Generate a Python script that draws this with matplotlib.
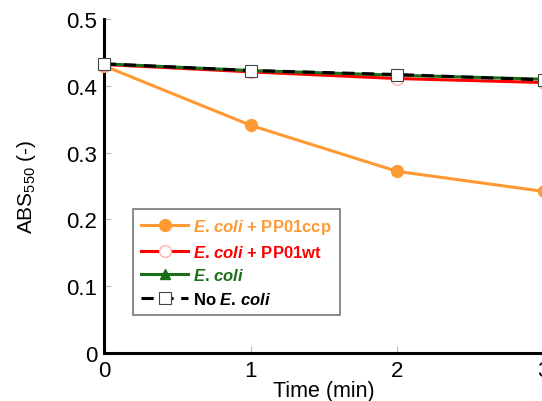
import matplotlib
matplotlib.use("Agg")
import matplotlib.pyplot as plt

plt.rcParams["font.family"] = ["Liberation Sans", "DejaVu Sans"]
plt.rcParams["mathtext.fontset"] = "custom"
plt.rcParams["mathtext.it"] = "Liberation Sans:italic:bold"
plt.rcParams["mathtext.rm"] = "Liberation Sans"

time_min = [0, 1, 2, 3]
ecoli_ccp = [0.430, 0.341, 0.272, 0.242]
ecoli_wt = [0.432, 0.421, 0.411, 0.405]
ecoli_only = [0.433, 0.423, 0.416, 0.410]
no_ecoli = [0.433, 0.423, 0.417, 0.409]

x_ticks = [0, 1, 2, 3]
y_ticks = [0, 0.1, 0.2, 0.3, 0.4, 0.5]
y_tick_labels = ["0", "0.1", "0.2", "0.3", "0.4", "0.5"]

fig = plt.figure(figsize=(5.42, 4.02), dpi=100)
ax = fig.add_axes([0.192, 0.1194, 0.811, 0.8306])

ax.plot(time_min, ecoli_ccp, "-o", color="#ff9933", lw=2.2, ms=8.5,
        mec="#ff9933", mfc="#ff9933", label=r"$E$. $coli$ + PP01ccp", clip_on=False, zorder=3)
ax.plot(time_min, ecoli_wt, "-o", color="#ff0000", lw=2.2, ms=8.5,
        mec="#ffb0b0", mfc="white", label=r"$E$. $coli$ + PP01wt", clip_on=False, zorder=4)
ax.plot(time_min, ecoli_only, "-^", color="#1a6e1a", lw=2.2, ms=7,
        mec="#1a6e1a", mfc="#1a6e1a", label=r"$E$. $coli$", clip_on=False, zorder=5)
ax.plot(time_min, no_ecoli, "--s", color="black", lw=2.2, ms=8,
        mec="#444444", mfc="white", mew=0.8, dashes=(4, 2.5),
        label=r"No $E$. $coli$", clip_on=False, zorder=6)

ax.set_xlim(0, 3)
ax.set_ylim(0, 0.5)
ax.set_xticks(x_ticks)
ax.set_yticks(y_ticks)
ax.set_yticklabels(y_tick_labels)
ax.tick_params(direction="in", length=5, width=0.8, color="#bbbbbb", labelsize=16, pad=5)

for side in ["left", "bottom"]:
    ax.spines[side].set_linewidth(2.2)
    ax.spines[side].set_color("black")
ax.spines["right"].set_color("#bbbbbb")
ax.spines["right"].set_linewidth(1)
ax.spines["top"].set_visible(False)

ax.set_xlabel("Time (min)", fontsize=15.5, labelpad=-1)
ax.set_ylabel(r"ABS$_{\mathregular{550}}$ (-)", fontsize=15, labelpad=20)

leg = ax.legend(loc="upper left", bbox_to_anchor=(0.066, 0.432), borderaxespad=0,
                fancybox=False, framealpha=1, edgecolor="#777777",
                handlelength=2.8, handletextpad=0.3, borderpad=0.5, labelspacing=0.45,
                prop={"weight": "bold", "size": 12})
leg.get_frame().set_linewidth(1.2)
colors = ["#ff9933", "#ff0000", "#1a6e1a", "black"]
for txt, c in zip(leg.get_texts(), colors):
    txt.set_color(c)

fig.savefig("out.png", dpi=100)
